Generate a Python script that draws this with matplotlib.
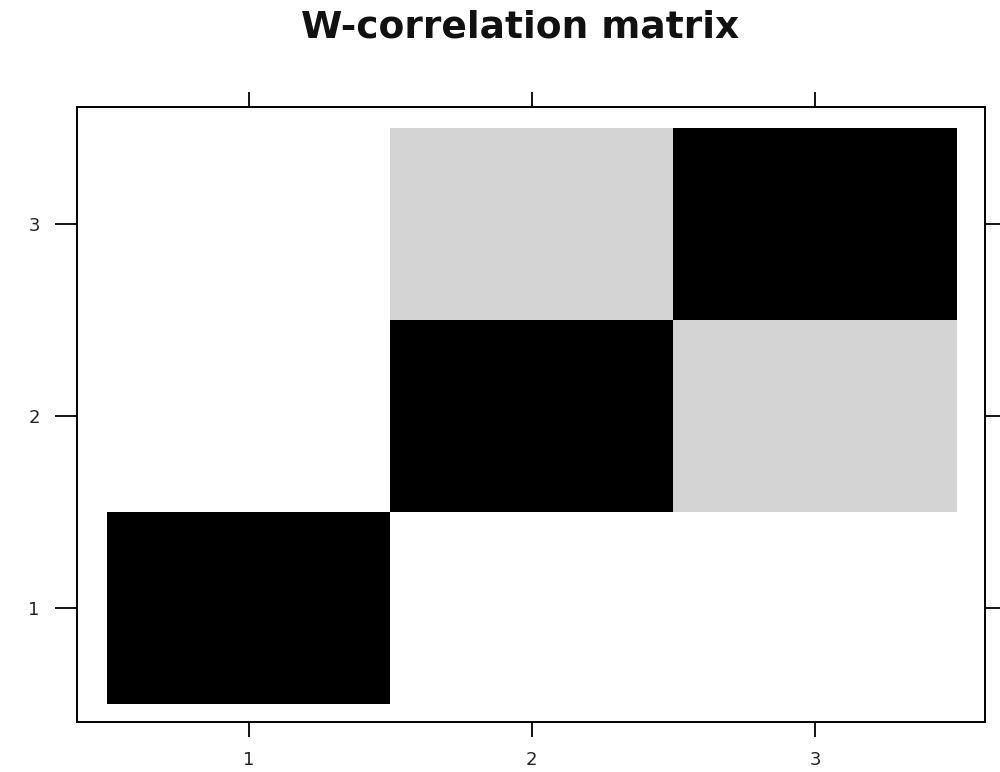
from matplotlib import pyplot
from matplotlib.colors import LinearSegmentedColormap
import numpy as np

# components of the decomposition and their pairwise w-correlations
components = [1, 2, 3]
wcor_row1 = [1.0, 0.0, 0.0]
wcor_row2 = [0.0, 1.0, 0.17]
wcor_row3 = [0.0, 0.17, 1.0]


def plot_wcor(prefix):
    wcor = np.array([wcor_row1, wcor_row2, wcor_row3])
    edges = np.arange(len(components) + 1) + 0.5

    fig = pyplot.figure(figsize=(10, 7.72), dpi=100)
    ax = fig.add_axes([0.077, 0.0648, 0.908, 0.7966])

    cmap = LinearSegmentedColormap.from_list('wb', ['white', 'black'])
    ax.pcolormesh(edges, edges, wcor, cmap=cmap, vmin=0, vmax=1)

    ax.set_xlim(0.394, 3.6)
    ax.set_ylim(0.406, 3.61)
    ax.set_xticks(components)
    ax.set_yticks(components)
    ax.set_xticklabels([str(c) for c in components], fontsize=13, color='#222222')
    ax.set_yticklabels([str(c) for c in components], fontsize=13, color='#222222')

    ax.tick_params(axis='x', which='major', direction='out', length=10.8,
                   width=1.3, pad=10, top=True, labeltop=False)
    ax.tick_params(axis='y', which='major', direction='out', length=15.8,
                   width=1.3, pad=11, right=True, labelright=False)
    for spine in ax.spines.values():
        spine.set_linewidth(1.4)

    fig.text(0.52, 0.964, 'W-correlation matrix', ha='center', va='center',
             fontsize=27, fontweight='bold', color='#111111')

    pyplot.savefig(prefix + '.png', dpi=100)


plot_wcor('out')
